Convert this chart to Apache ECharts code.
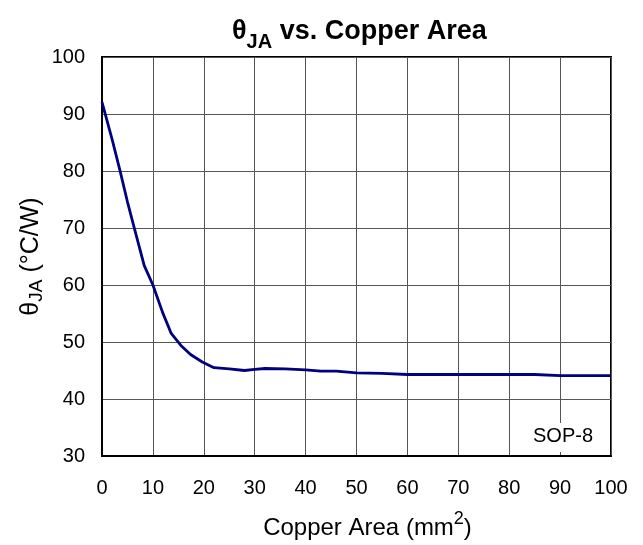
<!DOCTYPE html>
<html>
<head>
<meta charset="utf-8">
<script src="https://cdn.jsdelivr.net/npm/echarts@6/dist/echarts.min.js"></script>
<style>
html,body{margin:0;padding:0;background:#fff;}
#chart{width:643px;height:545px;}
</style>
</head>
<body>
<div id="chart"></div>
<script>
const copperArea = [0, 2, 3.5, 5, 6.4, 8.3, 10, 11.9, 13.6, 15.5, 17.4, 19.7, 22, 25, 28, 30, 32, 36, 40, 43, 46, 50, 55, 60, 70, 80, 85, 90, 100];
const thetaJA =    [92.1, 85.5, 80.2, 74.6, 69.8, 63.4, 60, 55.2, 51.5, 49.4, 47.8, 46.5, 45.5, 45.3, 45.0, 45.2, 45.35, 45.3, 45.1, 44.9, 44.9, 44.6, 44.5, 44.3, 44.3, 44.3, 44.3, 44.1, 44.1];
const xTicks = [0, 10, 20, 30, 40, 50, 60, 70, 80, 90, 100];
const yTicks = [30, 40, 50, 60, 70, 80, 90, 100];
const packageLabel = 'SOP-8';

const FONT = '"Liberation Sans", Arial, sans-serif';
const chart = echarts.init(document.getElementById('chart'));
chart.setOption({
  animation: false,
  backgroundColor: '#fff',
  title: {
    text: '{t|θ}{s|JA}{t| vs. Copper Area}',
    left: 227,
    top: 6,
    textStyle: {
      rich: {
        t: {fontFamily: FONT, fontWeight: 'bold', fontSize: 27, color: '#000', lineHeight: 41},
        s: {fontFamily: FONT, fontWeight: 'bold', fontSize: 20, color: '#000', verticalAlign: 'bottom', lineHeight: 20}
      }
    }
  },
  grid: {left: 102, right: 32, top: 57, bottom: 88, show: true, borderColor: '#000', borderWidth: 2},
  xAxis: {
    type: 'value', min: 0, max: 100, interval: 10,
    name: '{t|Copper Area (mm}{p|2}{t|)}',
    nameLocation: 'middle', nameGap: 54,
    nameTextStyle: {
      padding: [0, 0, 0, 22],
      rich: {
        t: {fontFamily: FONT, fontSize: 24, color: '#000', lineHeight: 36},
        p: {fontFamily: FONT, fontSize: 18, color: '#000', verticalAlign: 'top', lineHeight: 18}
      }
    },
    axisLine: {show: true, lineStyle: {color: '#000', width: 2}},
    axisTick: {show: false},
    axisLabel: {fontFamily: FONT, fontSize: 20, color: '#000', margin: 22},
    splitLine: {show: true, lineStyle: {color: '#555', width: 1}}
  },
  yAxis: {
    type: 'value', min: 30, max: 100, interval: 10,
    name: '{t|θ}{s|JA}{t| (°C/W)}',
    nameLocation: 'middle', nameGap: 56,
    nameMoveOverlap: false,
    nameTextStyle: {
      rich: {
        t: {fontFamily: FONT, fontSize: 25, color: '#000', lineHeight: 30},
        s: {fontFamily: FONT, fontSize: 19, color: '#000', verticalAlign: 'bottom', lineHeight: 19}
      }
    },
    axisLine: {show: true, lineStyle: {color: '#000', width: 2}},
    axisTick: {show: false},
    axisLabel: {fontFamily: FONT, fontSize: 20, color: '#000', margin: 17},
    splitLine: {show: true, lineStyle: {color: '#555', width: 1}}
  },
  series: [{
    type: 'line',
    data: copperArea.map((x, i) => [x, thetaJA[i]]),
    showSymbol: false,
    symbol: 'none',
    lineStyle: {color: '#000080', width: 2.8},
    z: 3
  }],
  graphic: [{
    type: 'text',
    left: 529, top: 423,
    z: 10,
    style: {
      text: packageLabel,
      font: '20px ' + FONT,
      fill: '#000',
      backgroundColor: '#fff',
      padding: [3, 4, 6, 4]
    }
  }]
});
</script>
</body>
</html>
